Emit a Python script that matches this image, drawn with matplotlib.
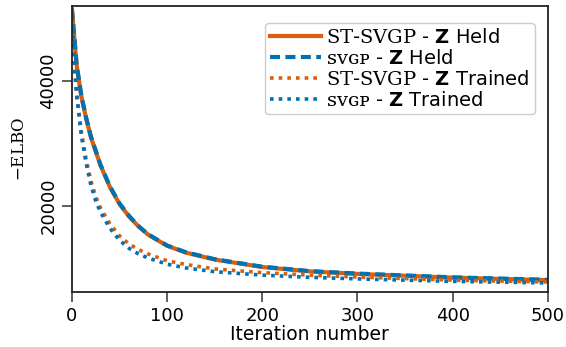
import matplotlib
matplotlib.use("Agg")
import matplotlib.pyplot as plt

plt.rcParams['mathtext.fontset'] = 'custom'
plt.rcParams['mathtext.rm'] = 'DejaVu Serif'
plt.rcParams['mathtext.tt'] = 'DejaVu Serif'
plt.rcParams['mathtext.bf'] = 'DejaVu Sans:bold'
plt.rcParams['axes.unicode_minus'] = True

iters_held = [0, 5, 10, 15, 20, 30, 40, 50, 60, 70, 80, 100, 120, 150, 200, 250, 300, 350, 400, 450, 500]
st_held = [51500, 42500, 37500, 34000, 31000, 26500, 23000, 20300, 18300, 16700, 15400, 13600, 12500, 11400, 10200, 9500, 9100, 8800, 8500, 8300, 8100]
svgp_held = [51600, 42600, 37600, 34100, 31100, 26600, 23100, 20400, 18400, 16750, 15450, 13650, 12550, 11450, 10250, 9550, 9150, 8850, 8550, 8350, 8150]

iters_tr = [0, 3, 5, 10, 15, 20, 25, 30, 40, 50, 60, 70, 80, 100, 120, 150, 200, 250, 300, 400, 500]
st_tr = [51500, 42000, 38000, 31800, 27400, 24000, 21500, 19700, 17100, 15200, 13900, 13000, 12300, 11200, 10600, 9900, 9300, 8900, 8600, 8100, 7800]
svgp_tr = [51500, 41700, 37800, 31200, 26800, 23300, 20800, 19000, 16400, 14500, 13200, 12300, 11650, 10650, 10050, 9450, 8900, 8550, 8300, 7900, 7650]

xticks = [0, 100, 200, 300, 400, 500]
yticks = [20000, 40000]

orange = '#d95f0e'
blue = '#0072b2'

fig = plt.figure(figsize=(5.66, 3.47), dpi=100)
ax = fig.add_axes([0.127, 0.1585, 0.841, 0.824])

ax.plot(iters_held, st_held, color=orange, lw=3.0, ls='-',
        label=r'$\mathrm{ST}$-$\mathrm{SVGP}$ - $\mathbf{Z}$ Held')
ax.plot(iters_held, svgp_held, color=blue, lw=3.0, ls=(0, (2.4, 1.3)),
        label=r'$\mathtt{ꜱᴠɢᴘ}$ - $\mathbf{Z}$ Held')
ax.plot(iters_tr, st_tr, color=orange, lw=2.6, ls=(0, (1, 1.4)),
        label=r'$\mathrm{ST}$-$\mathrm{SVGP}$ - $\mathbf{Z}$ Trained')
ax.plot(iters_tr, svgp_tr, color=blue, lw=2.6, ls=(0, (1, 1.4)),
        label=r'$\mathtt{ꜱᴠɢᴘ}$ - $\mathbf{Z}$ Trained')

ax.set_xlim(0, 500)
ax.set_ylim(6200, 52000)
ax.set_xticks(xticks)
ax.set_yticks(yticks)
ax.tick_params(axis='both', labelsize=13, length=7, width=1.2, color='#444444')
for lab in ax.get_yticklabels():
    lab.set_rotation(90)
    lab.set_va('center')
for s in ax.spines.values():
    s.set_linewidth(1.3)
    s.set_color('#222222')

ax.set_xlabel('Iteration number', fontsize=13.5, labelpad=0)
ax.set_ylabel(r'$-\mathrm{ELBO}$', fontsize=12, labelpad=8)

leg = ax.legend(loc='upper right', fontsize=14, handlelength=2.6, handletextpad=0.3,
                labelspacing=0.1, borderpad=0.25, bbox_to_anchor=(0.993, 0.975),
                framealpha=1, fancybox=True)

fig.savefig('out.png', dpi=100)
